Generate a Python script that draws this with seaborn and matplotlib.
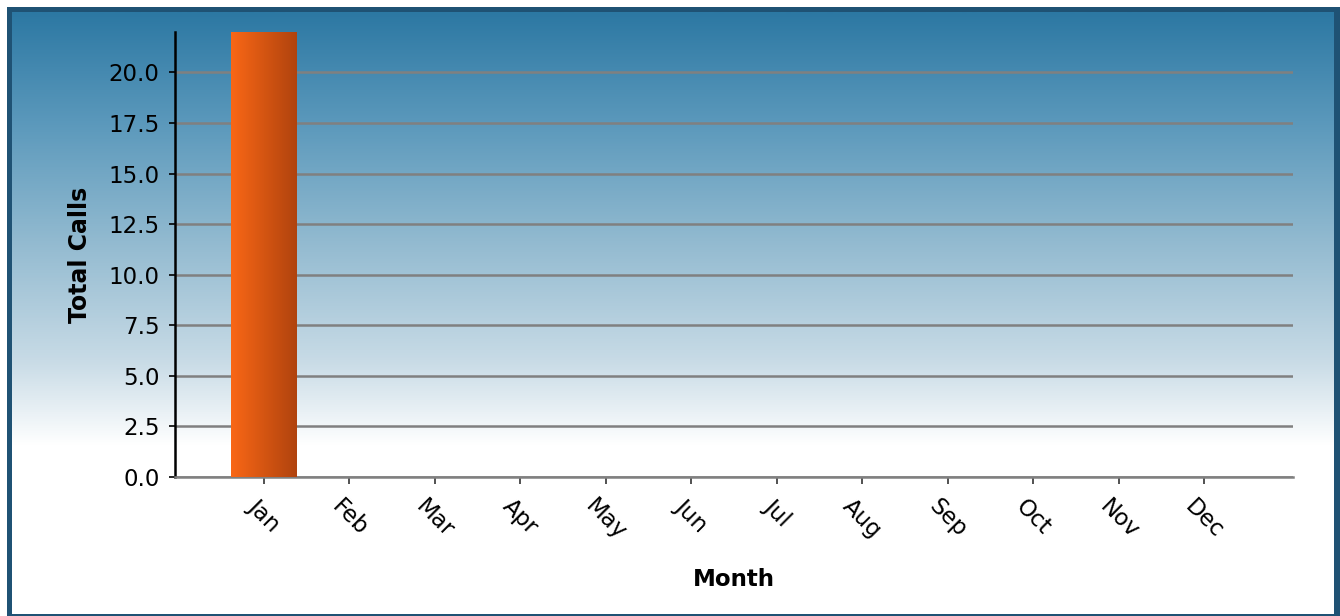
import numpy as np
import pandas as pd
import matplotlib
matplotlib.use("Agg")
import matplotlib.pyplot as plt
from matplotlib.patches import Rectangle
from matplotlib.colors import LinearSegmentedColormap
from matplotlib.ticker import MultipleLocator, FormatStrFormatter
import seaborn as sns

months = ["Jan", "Feb", "Mar", "Apr", "May", "Jun",
          "Jul", "Aug", "Sep", "Oct", "Nov", "Dec"]
total_calls = [22, 0, 0, 0, 0, 0, 0, 0, 0, 0, 0, 0]

df = pd.DataFrame({"Month": months, "Total Calls": total_calls})

sns.set_theme(style="white")
plt.rcParams["font.family"] = ["DejaVu Sans"]

W, H = 1340, 616
fig = plt.figure(figsize=(W / 100, H / 100), dpi=100)
fig.patch.set_facecolor("white")

# Framed panel with a vertical blue-to-white wash
bg = fig.add_axes([0, 0, 1, 1], zorder=-10)
bg.add_patch(Rectangle((7, 7), W, H, facecolor="#1f5274", edgecolor="none",
                       zorder=1))
wash = LinearSegmentedColormap.from_list(
    "wash", [(0.0, "#2c78a3"), (0.18, "#5a98bb"), (0.38, "#92bad0"),
             (0.58, "#c8dbe6"), (0.72, "#ffffff"), (1.0, "#ffffff")])
grad = np.linspace(0, 1, 512).reshape(-1, 1)
bg.imshow(grad, cmap=wash, aspect="auto", extent=(12, 1334, 614, 12),
          interpolation="bilinear", zorder=2)
bg.set_xlim(0, W)
bg.set_ylim(H, 0)
bg.axis("off")

ax = fig.add_axes([175 / W, 1 - 477 / H, (1293 - 175) / W, (477 - 32) / H])
ax.set_facecolor("none")

sns.barplot(data=df, x="Month", y="Total Calls", color="#e0581a",
            width=0.77, linewidth=0, edgecolor="none", ax=ax, zorder=3)

ax.yaxis.set_major_locator(MultipleLocator(2.5))
ax.yaxis.set_major_formatter(FormatStrFormatter("%.1f"))
ax.grid(axis="y", color="#808080", linewidth=1.8, zorder=1)
ax.set_axisbelow(True)

# Horizontal orange shading on each bar
bar_cmap = LinearSegmentedColormap.from_list("bar", ["#f96716", "#b0430e"])
hgrad = np.linspace(0, 1, 256).reshape(1, -1)
for p in ax.patches:
    h = p.get_height()
    if h <= 0:
        p.set_visible(False)
        continue
    x0 = p.get_x()
    w = p.get_width()
    im = ax.imshow(hgrad, cmap=bar_cmap, aspect="auto",
                   extent=(x0, x0 + w, 0, h), zorder=4,
                   interpolation="bilinear")
    im.set_clip_path(p)
ax.set_xlim(-1.04, 12.04)
ax.set_ylim(0, 22)

for side in ("top", "right"):
    ax.spines[side].set_visible(False)
ax.spines["left"].set_color("black")
ax.spines["left"].set_linewidth(1.8)
ax.spines["bottom"].set_color("#808080")
ax.spines["bottom"].set_linewidth(1.8)

ax.tick_params(axis="y", left=True, length=4, width=1.2, color="black",
               labelsize=16.5, labelcolor="black", pad=7)
ax.tick_params(axis="x", bottom=True, length=5, width=1.2, color="#333333",
               labelsize=16.5, labelcolor="black", pad=8)
for lbl in ax.get_xticklabels():
    lbl.set_rotation(-45)

ax.set_xlabel("Month", fontsize=16.5, fontweight="bold", color="black")
ax.set_ylabel("Total Calls", fontsize=17, fontweight="bold", color="black")
ax.xaxis.set_label_coords(0.5, -0.205)
ax.yaxis.set_label_coords(-0.074, 0.5)

fig.savefig("out.png", dpi=100)
